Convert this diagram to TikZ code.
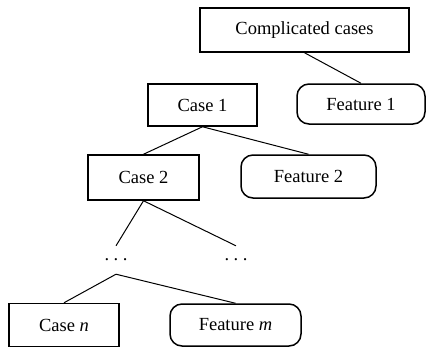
\documentclass[tikz,border=0pt]{standalone}
\usepackage{fontspec}
\setmainfont{Liberation Serif}
\newcommand{\spdots}{.\hspace{4.5pt}.\hspace{4.5pt}.}
\begin{document}
\begin{tikzpicture}[x=1pt,y=-1pt,
  every node/.style={font=\fontsize{18.5}{22}\selectfont, inner sep=0pt},
  casebox/.style={draw, line width=1.5pt},
  featbox/.style={draw, line width=1.5pt, rounded corners=12pt},
  conn/.style={line width=1pt}]
\useasboundingbox (0,0) rectangle (427,349);
\node[casebox, minimum width=209, minimum height=44] (cc) at (304.5,30) {Complicated cases};
\node[featbox, minimum width=128, minimum height=40] (f1) at (361,104) {Feature 1};
\node[casebox, minimum width=109, minimum height=42] (c1) at (202.5,105) {Case 1};
\node[casebox, minimum width=111, minimum height=45] (c2) at (143.5,177.5) {Case 2};
\node[featbox, minimum width=135, minimum height=43] (f2) at (308.5,176.5) {Feature 2};
\node[minimum height=28] (d1) at (116,260) {\spdots};
\node[minimum height=28] (d2) at (236,260) {\spdots};
\node[casebox, minimum width=110, minimum height=43] (cn) at (64,325) {Case \textit{n}};
\node[featbox, minimum width=131, minimum height=42] (fm) at (235.5,325) {Feature \textit{m}};
\draw[conn] (cc.south) -- (f1.north);
\draw[conn] (c1.south) -- (c2.north);
\draw[conn] (c1.south) -- (f2.north);
\draw[conn] (c2.south) -- (d1.north);
\draw[conn] (c2.south) -- (d2.north);
\draw[conn] (d1.south) -- (cn.north);
\draw[conn] (d1.south) -- (fm.north);
\end{tikzpicture}
\end{document}
